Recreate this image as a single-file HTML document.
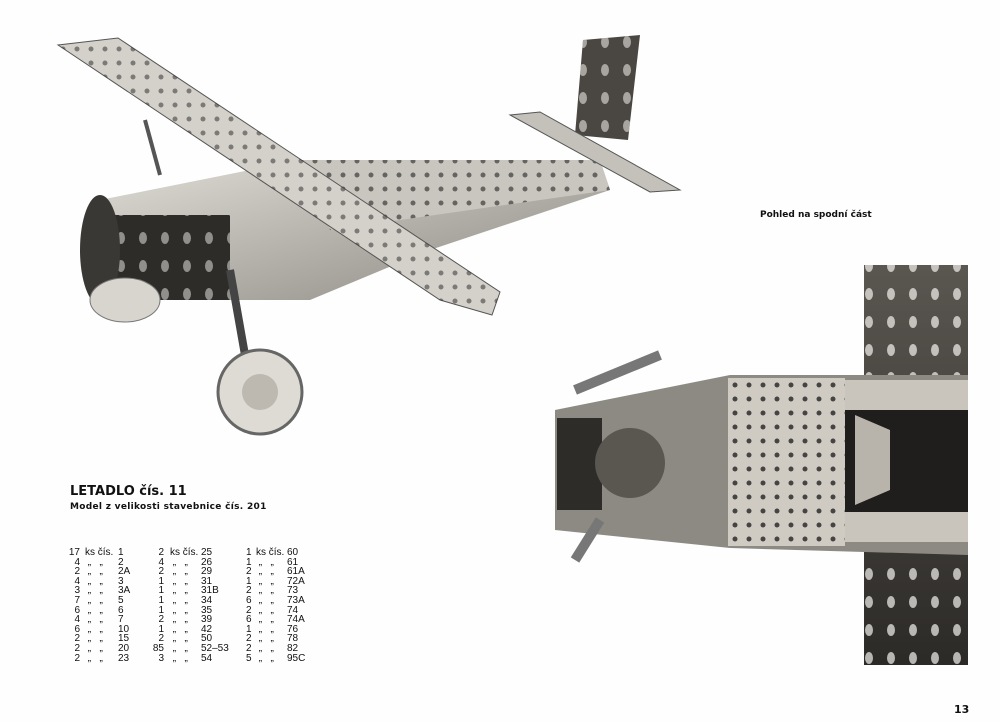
<!DOCTYPE html>
<html><head><meta charset="utf-8"><style>
body{margin:0;background:#fff;}
#p{position:relative;width:1000px;height:722px;overflow:hidden;background:#fefefe;font-family:"DejaVu Sans","Liberation Sans",sans-serif;color:#111;}
.t{position:absolute;white-space:nowrap;}
.c{position:absolute;font-size:10px;line-height:9.6px;white-space:pre;font-family:"Liberation Sans",sans-serif;}
.ra{text-align:right;}
</style></head><body><div id="p">
<svg width="1000" height="722" style="position:absolute;left:0;top:0">
<defs>
<linearGradient id="m" x1="0" y1="0" x2="1" y2="1"><stop offset="0" stop-color="#e0ddd6"/><stop offset="1" stop-color="#8a8780"/></linearGradient>
<linearGradient id="d" x1="0" y1="0" x2="0" y2="1"><stop offset="0" stop-color="#5a5650"/><stop offset="1" stop-color="#2c2a27"/></linearGradient>
<pattern id="h" width="14" height="14" patternUnits="userSpaceOnUse"><circle cx="7" cy="7" r="2.5" fill="#222"/></pattern>
<pattern id="hw" width="22" height="28" patternUnits="userSpaceOnUse"><ellipse cx="11" cy="14" rx="4" ry="6" fill="#f4f2ee"/></pattern>
</defs>
<polygon points="100,200 300,160 600,160 610,190 430,250 310,300 110,300" fill="url(#m)"/>
<polygon points="300,160 600,160 610,190 330,230" fill="#c9c6bf"/>
<polygon points="300,160 600,160 610,190 330,230" fill="url(#h)" opacity=".6"/>
<rect x="110" y="215" width="120" height="85" fill="#2e2c29"/>
<rect x="110" y="215" width="120" height="85" fill="url(#hw)" opacity=".5"/>
<ellipse cx="100" cy="250" rx="20" ry="55" fill="#3a3834"/>
<ellipse cx="125" cy="300" rx="35" ry="22" fill="#d8d5cf" stroke="#777"/>
<polygon points="58,45 118,38 500,292 492,315 440,300" fill="#d4d1ca" stroke="#555"/>
<polygon points="58,45 118,38 500,292 492,315 440,300" fill="url(#h)" opacity=".5"/>
<polygon points="583,40 640,35 628,140 575,135" fill="#4a4743"/>
<polygon points="583,40 640,35 628,140 575,135" fill="url(#hw)" opacity=".55"/>
<polygon points="510,115 540,112 680,190 650,192" fill="#c4c1ba" stroke="#555"/>
<line x1="230" y1="270" x2="245" y2="355" stroke="#444" stroke-width="8"/>
<line x1="145" y1="120" x2="160" y2="175" stroke="#555" stroke-width="4"/>
<circle cx="260" cy="392" r="42" fill="#dedbd4" stroke="#666" stroke-width="3"/>
<circle cx="260" cy="392" r="18" fill="#bdb9b1"/>
<rect x="864" y="265" width="104" height="400" fill="url(#d)"/>
<rect x="864" y="265" width="104" height="400" fill="url(#hw)" opacity=".7"/>
<polygon points="555,410 730,375 968,375 968,555 730,548 555,530" fill="#8d8a83"/>
<rect x="557" y="418" width="45" height="92" fill="#2e2c29"/>
<circle cx="630" cy="463" r="35" fill="#5a5650"/>
<rect x="728" y="378" width="117" height="168" fill="#cfcbc3"/>
<rect x="728" y="378" width="117" height="168" fill="url(#h)" opacity=".8"/>
<rect x="845" y="380" width="123" height="30" fill="#c9c5bd"/>
<rect x="845" y="512" width="123" height="30" fill="#c9c5bd"/>
<rect x="845" y="410" width="123" height="102" fill="#1f1e1c"/>
<polygon points="855,415 890,430 890,490 855,505" fill="#b8b4ac"/>
<line x1="575" y1="390" x2="660" y2="355" stroke="#777" stroke-width="10"/>
<line x1="575" y1="560" x2="600" y2="520" stroke="#777" stroke-width="10"/>
</svg>
<div class="t" style="left:760px;top:210px;font-size:9px;font-weight:bold;">Pohled na spodní část</div>
<div class="t" style="left:70px;top:484px;font-size:13px;font-weight:bold;">LETADLO čís. 11</div>
<div class="t" style="left:70px;top:502px;font-size:9px;font-weight:bold;letter-spacing:.3px;">Model z velikosti stavebnice čís. 201</div>

<div class="c ra" style="left:62px;top:548px;width:18px;">17
4
2
4
3
7
6
4
6
2
2
2</div>
<div class="c" style="left:85px;top:548px;">ks čís.
 „   „
 „   „
 „   „
 „   „
 „   „
 „   „
 „   „
 „   „
 „   „
 „   „
 „   „</div>
<div class="c" style="left:118px;top:548px;">1
2
2A
3
3A
5
6
7
10
15
20
23</div>

<div class="c ra" style="left:148px;top:548px;width:16px;">2
4
2
1
1
1
1
2
1
2
85
3</div>
<div class="c" style="left:170px;top:548px;">ks čís.
 „   „
 „   „
 „   „
 „   „
 „   „
 „   „
 „   „
 „   „
 „   „
 „   „
 „   „</div>
<div class="c" style="left:201px;top:548px;">25
26
29
31
31B
34
35
39
42
50
52–53
54</div>

<div class="c" style="left:246px;top:548px;">1
1
2
1
2
6
2
6
1
2
2
5</div>
<div class="c" style="left:256px;top:548px;">ks čís.
 „   „
 „   „
 „   „
 „   „
 „   „
 „   „
 „   „
 „   „
 „   „
 „   „
 „   „</div>
<div class="c" style="left:287px;top:548px;">60
61
61A
72A
73
73A
74
74A
76
78
82
95C</div>
<div class="t" style="left:954px;top:703px;font-size:11px;font-weight:bold;">13</div>
</div></body></html>
